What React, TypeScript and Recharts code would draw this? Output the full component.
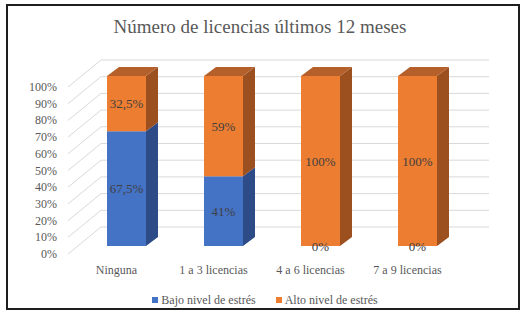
import React from 'react';
import { BarChart, Bar, XAxis, YAxis, CartesianGrid, LabelList } from 'recharts';

const categories = ['Ninguna', '1 a 3 licencias', '4 a 6 licencias', '7 a 9 licencias'];
const bajoValues = [67.5, 41, 0, 0];
const altoValues = [32.5, 59, 100, 100];
const yTicks = [0, 10, 20, 30, 40, 50, 60, 70, 80, 90, 100];

const data = categories.map((name, i) => ({ name, bajo: bajoValues[i], alto: altoValues[i] }));

const W = 526;
const H = 314;
const MARGIN = { top: 76, right: 60, left: 18, bottom: 38 };
const PLOT_BOTTOM = H - MARGIN.bottom - 30;
const FONT = "'Liberation Serif', 'Times New Roman', serif";

// 3d look: bar depth and the back wall offset
const DEPTH_X = 12;
const DEPTH_Y = 9;
const WALL_K = 167 / 170;
const wallY = (y: number) => PLOT_BOTTOM - 19 - (PLOT_BOTTOM - y) * WALL_K;

const BLUE = { front: '#4472C4', side: '#2C4B87', top: '#3A62A8' };
const ORANGE = { front: '#ED7D31', side: '#9C4F1F', top: '#B5602A' };

const textStyle = { fontFamily: FONT };

const makeShape = (c: typeof BLUE, withTop: boolean) => (props: any) => {
  const { x, y, width, height } = props;
  if (x == null || y == null) return null;
  const r = x + width;
  return (
    <g>
      <rect x={x} y={y} width={width} height={height} fill={c.front} />
      <path
        d={`M${r},${y} L${r + DEPTH_X},${y - DEPTH_Y} L${r + DEPTH_X},${y + height - DEPTH_Y} L${r},${y + height} Z`}
        fill={c.side}
      />
      {withTop && (
        <path
          d={`M${x},${y} L${x + DEPTH_X},${y - DEPTH_Y} L${r + DEPTH_X},${y - DEPTH_Y} L${r},${y} Z`}
          fill={c.top}
        />
      )}
    </g>
  );
};

const gridLine = (props: any) => {
  const { x1, x2, y1, key } = props;
  const wy = wallY(y1);
  return (
    <path
      key={key}
      d={`M${x1 - 10},${wy + 27} L${x1 + 23},${wy} L${x2 + 23},${wy}`}
      stroke="#D9D9D9"
      strokeWidth={1}
      fill="none"
    />
  );
};

const YTick = (props: any) => {
  const { y, payload } = props;
  return (
    <text x={57} y={wallY(y) + 27} dy={4} textAnchor="end" fontSize={12} fill="#595959" style={textStyle}>
      {payload.value}%
    </text>
  );
};

const XTick = (props: any) => {
  const { x, payload } = props;
  return (
    <text x={x - 10} y={PLOT_BOTTOM + 28} textAnchor="middle" fontSize={12} fill="#595959" style={textStyle}>
      {payload.value}
    </text>
  );
};

const fmt = (v: any) => String(v).replace('.', ',') + '%';

const App: React.FC = () => {
  return (
    <div style={{ position: 'absolute', left: 0, top: 0, width: W, height: H, background: '#fff', fontFamily: FONT }}>
      <div
        style={{
          position: 'absolute',
          left: 6,
          top: 4,
          width: 514,
          height: 306,
          border: '2px solid #1E1E1E',
          boxSizing: 'border-box',
        }}
      />
      <div
        style={{
          position: 'absolute',
          left: 0,
          top: 14,
          width: 520,
          textAlign: 'center',
          fontSize: 19,
          lineHeight: '26px',
          color: '#595959',
        }}
      >
        Número de licencias últimos 12 meses
      </div>
      <div style={{ position: 'absolute', left: 0, top: 0 }}>
        <BarChart width={W} height={H} data={data} margin={MARGIN} style={textStyle}>
          <CartesianGrid horizontal={gridLine} vertical={false} />
          <XAxis dataKey="name" height={30} axisLine={false} tickLine={false} tick={<XTick />} interval={0} />
          <YAxis
            width={60}
            domain={[0, 100]}
            ticks={yTicks}
            axisLine={false}
            tickLine={false}
            tick={<YTick />}
            interval={0}
          />
          <Bar dataKey="bajo" stackId="a" barSize={39} isAnimationActive={false} shape={makeShape(BLUE, false)}>
            <LabelList
              dataKey="bajo"
              position="center"
              formatter={fmt}
              fontSize={13}
              fill="#404040"
              style={textStyle}
            />
          </Bar>
          <Bar dataKey="alto" stackId="a" barSize={39} isAnimationActive={false} shape={makeShape(ORANGE, true)}>
            <LabelList
              dataKey="alto"
              position="center"
              formatter={fmt}
              fontSize={13}
              fill="#404040"
              style={textStyle}
            />
          </Bar>
        </BarChart>
      </div>
      <div
        style={{
          position: 'absolute',
          left: 0,
          top: 292,
          width: 526,
          display: 'flex',
          justifyContent: 'center',
          gap: 20,
          fontSize: 12,
          lineHeight: '16px',
          color: '#595959',
          paddingLeft: 4,
          boxSizing: 'border-box',
        }}
      >
        <div style={{ display: 'flex', alignItems: 'center', gap: 3 }}>
          <div style={{ width: 6, height: 6, background: BLUE.front }} />
          <span>Bajo nivel de estrés</span>
        </div>
        <div style={{ display: 'flex', alignItems: 'center', gap: 3 }}>
          <div style={{ width: 6, height: 6, background: ORANGE.front }} />
          <span>Alto nivel de estrés</span>
        </div>
      </div>
    </div>
  );
};

export default App;
